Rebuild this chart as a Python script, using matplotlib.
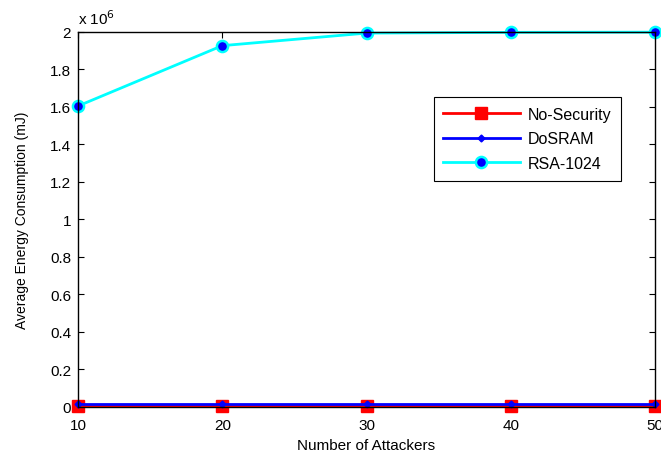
import numpy as np
import matplotlib
matplotlib.use("Agg")
import matplotlib.pyplot as plt
from matplotlib.ticker import FuncFormatter, MultipleLocator

plt.rcParams['font.family'] = ['Liberation Sans', 'DejaVu Sans']

# data (energy in mJ)
attackers = [10, 20, 30, 40, 50]
no_security = [5000, 5000, 5000, 5000, 5000]
dosram = [17000, 17000, 17000, 17000, 17000]
rsa_1024 = [1.605e6, 1.927e6, 1.994e6, 1.998e6, 1.999e6]

fig = plt.figure(figsize=(6.61, 4.56), dpi=100)
ax = fig.add_axes([0.118, 0.1053, 0.873, 0.8224])

ax.plot(attackers, no_security, color='red', lw=2, marker='s', markersize=9,
        markerfacecolor='red', markeredgecolor='red', label='No-Security', clip_on=False)
ax.plot(attackers, dosram, color='blue', lw=2, marker='D', markersize=3.5,
        markerfacecolor='blue', markeredgecolor='blue', label='DoSRAM', clip_on=False)
ax.plot(attackers, rsa_1024, color='cyan', lw=2, marker='o', markersize=8,
        markerfacecolor='blue', markeredgecolor='cyan', markeredgewidth=1.8,
        label='RSA-1024', clip_on=False)

ax.set_xlim(10, 50)
ax.set_ylim(0, 2e6)
ax.xaxis.set_major_locator(MultipleLocator(10))
ax.yaxis.set_major_locator(MultipleLocator(0.2e6))
ax.yaxis.set_major_formatter(FuncFormatter(lambda v, p: '%g' % round(v / 1e6, 1)))
ax.tick_params(direction='in', length=4, width=0.8, top=True, right=True,
               labelsize=11)
ax.tick_params(axis='x', pad=8)
ax.tick_params(axis='y', pad=5)
for s in ax.spines.values():
    s.set_linewidth(1.0)

ax.text(0.0, 1.012, r'x 10$^{6}$', transform=ax.transAxes, fontsize=11,
        ha='left', va='bottom')

ax.set_xlabel('Number of Attackers', fontsize=11, labelpad=4)
ax.set_ylabel('Average Energy Consumption (mJ)', fontsize=10, labelpad=15)

leg = ax.legend(loc='upper right', bbox_to_anchor=(0.941, 0.826), fontsize=11.5,
                frameon=True, fancybox=False, edgecolor='black', framealpha=1,
                handlelength=4.8, labelspacing=0.6, borderpad=0.6,
                handletextpad=0.5, borderaxespad=0)
leg.get_frame().set_linewidth(0.8)

fig.savefig('out.png', dpi=100)
